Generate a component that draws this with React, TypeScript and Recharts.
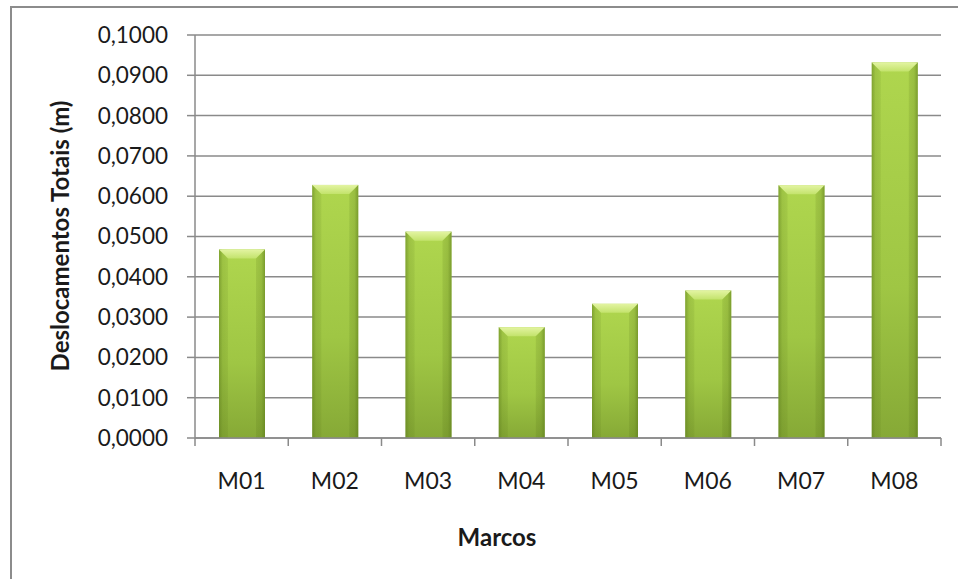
import { BarChart, Bar, XAxis, YAxis, CartesianGrid, Label } from 'recharts';

const marcos = ['M01', 'M02', 'M03', 'M04', 'M05', 'M06', 'M07', 'M08'];
const deslocamentos = [0.0468, 0.0628, 0.0512, 0.0275, 0.0333, 0.0366, 0.0627, 0.0932];
const yTicks = [0, 0.01, 0.02, 0.03, 0.04, 0.05, 0.06, 0.07, 0.08, 0.09, 0.1];

const data = marcos.map((m, i) => ({ marco: m, valor: deslocamentos[i] }));

const FONT = 'Lato, "Open Sans", sans-serif';
const GRID = '#8a8a8a';
const TEXT = '#1a1a1a';

const fmt = (v: number) => v.toFixed(4).replace('.', ',');

// bevelled bar, Excel-style
function BevelBar(props: any) {
  const { x, y, width, height } = props;
  if (!height || height <= 0) return null;
  const b = Math.min(9, height / 2);
  return (
    <g>
      <rect x={x} y={y} width={width} height={height} fill="url(#barBody)" />
      <rect x={x} y={y} width={width} height={height} fill="url(#barEdges)" />
      <polygon
        points={`${x},${y} ${x + width},${y} ${x + width - b},${y + b} ${x + b},${y + b}`}
        fill="url(#barTop)"
      />
      <polygon
        points={`${x},${y} ${x + b},${y + b} ${x + b},${y + height} ${x},${y + height}`}
        fill="rgba(70,95,15,0.08)"
      />
      <polygon
        points={`${x + width},${y} ${x + width - b},${y + b} ${x + width - b},${y + height} ${x + width},${y + height}`}
        fill="rgba(70,95,15,0.12)"
      />
    </g>
  );
}

// category labels with tick marks on the band edges
function MarcoTick(props: any) {
  const { x, y, payload, index } = props;
  const half = payload?.offset ?? 46.6;
  const axisY = y - 35;
  return (
    <g>
      <line x1={x - half} y1={axisY} x2={x - half} y2={axisY + 8} stroke={GRID} strokeWidth={1.5} />
      {index === marcos.length - 1 && (
        <line x1={x + half} y1={axisY} x2={x + half} y2={axisY + 8} stroke={GRID} strokeWidth={1.5} />
      )}
      <text x={x} y={y + 16} textAnchor="middle" fontFamily={FONT} fontSize={23} fill={TEXT}>
        {payload.value}
      </text>
    </g>
  );
}

export default function App() {
  return (
    <div
      style={{
        position: 'absolute',
        left: 0,
        top: 0,
        width: 958,
        height: 579,
        overflow: 'hidden',
        background: '#fff',
      }}
    >
      <div
        style={{
          position: 'absolute',
          left: 10,
          top: 6,
          width: 1000,
          height: 620,
          border: '2px solid #8c8c8c',
        }}
      />
      <div style={{ position: 'absolute', left: 0, top: 0 }}>
        <BarChart
          width={958}
          height={579}
          data={data}
          margin={{ top: 35, right: 17, bottom: 0, left: 0 }}
          barSize={46}
        >
          <defs>
            <linearGradient id="barBody" x1="0" y1="0" x2="0" y2="1">
              <stop offset="0%" stopColor="#afd64e" />
              <stop offset="60%" stopColor="#9fc644" />
              <stop offset="100%" stopColor="#86a936" />
            </linearGradient>
            <linearGradient id="barEdges" x1="0" y1="0" x2="1" y2="0">
              <stop offset="0%" stopColor="#5d7d1c" stopOpacity={0.5} />
              <stop offset="8%" stopColor="#5d7d1c" stopOpacity={0.1} />
              <stop offset="20%" stopColor="#5d7d1c" stopOpacity={0} />
              <stop offset="80%" stopColor="#5d7d1c" stopOpacity={0} />
              <stop offset="92%" stopColor="#5d7d1c" stopOpacity={0.12} />
              <stop offset="100%" stopColor="#5d7d1c" stopOpacity={0.55} />
            </linearGradient>
            <linearGradient id="barTop" x1="0" y1="0" x2="0" y2="1">
              <stop offset="0%" stopColor="#e3f4a2" />
              <stop offset="100%" stopColor="#c3e36c" />
            </linearGradient>
          </defs>
          <CartesianGrid vertical={false} stroke={GRID} strokeWidth={1.5} />
          <XAxis
            dataKey="marco"
            height={141}
            axisLine={{ stroke: GRID, strokeWidth: 1.5 }}
            tickLine={false}
            tickSize={0}
            tickMargin={35}
            tick={<MarcoTick />}
            interval={0}
          >
            <Label
              content={() => (
                <text
                  x={497}
                  y={546}
                  textAnchor="middle"
                  fontFamily={FONT}
                  fontWeight={700}
                  fontSize={24}
                  fill={TEXT}
                >
                  Marcos
                </text>
              )}
            />
          </XAxis>
          <YAxis
            width={195}
            domain={[0, 0.1]}
            ticks={yTicks}
            tickFormatter={fmt}
            axisLine={{ stroke: GRID, strokeWidth: 1.5 }}
            tickLine={{ stroke: GRID, strokeWidth: 1.5 }}
            tickSize={8}
            tickMargin={19}
            tick={{ fontFamily: FONT, fontSize: 22.5, fill: TEXT }}
            interval={0}
          >
            <Label
              content={() => (
                <text
                  x={69}
                  y={236}
                  transform="rotate(-90, 69, 236)"
                  textAnchor="middle"
                  fontFamily={FONT}
                  fontWeight={700}
                  fontSize={24}
                  fill={TEXT}
                >
                  Deslocamentos Totais (m)
                </text>
              )}
            />
          </YAxis>
          <Bar dataKey="valor" shape={<BevelBar />} isAnimationActive={false} />
        </BarChart>
      </div>
    </div>
  );
}
